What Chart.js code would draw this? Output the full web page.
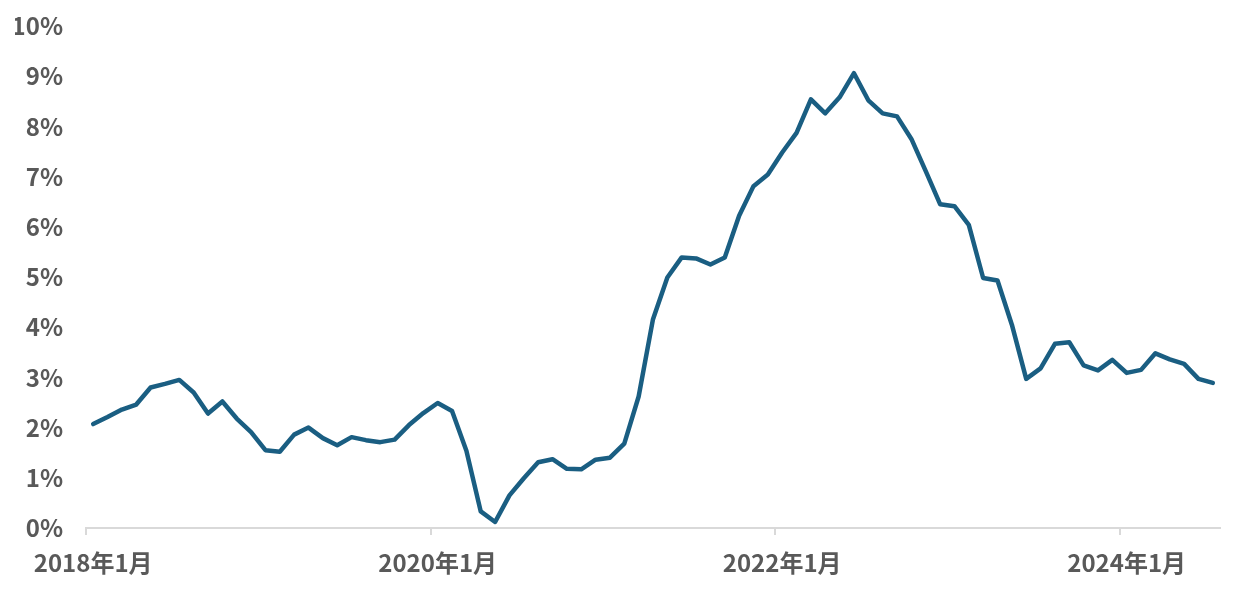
<!DOCTYPE html>
<html>
<head>
<meta charset="utf-8">
<script src="https://cdn.jsdelivr.net/npm/chart.js@4.4.1/dist/chart.umd.min.js"></script>
<style>
  html, body { margin: 0; padding: 0; background: #ffffff; }
  #wrap { position: relative; width: 1243px; height: 599px; }
</style>
</head>
<body>
<div id="wrap"><canvas id="cpiChart"></canvas></div>
<script>
// 月次 前年同月比 (%), 2018年1月 - 2024年7月
const startYear = 2018;
const monthCount = 79;
const months = [];
for (let i = 0; i < monthCount; i++) {
    const y = startYear + Math.floor(i / 12);
    const m = (i % 12) + 1;
    months.push(y + "年" + m + "月");
}

const rate2018 = [2.07, 2.21, 2.36, 2.46, 2.80, 2.87, 2.95, 2.70, 2.28, 2.52, 2.18, 1.91];
const rate2019 = [1.55, 1.52, 1.86, 2.00, 1.79, 1.65, 1.81, 1.75, 1.71, 1.76, 2.05, 2.29];
const rate2020 = [2.49, 2.33, 1.54, 0.33, 0.12, 0.65, 0.99, 1.31, 1.37, 1.18, 1.17, 1.36];
const rate2021 = [1.40, 1.68, 2.62, 4.16, 4.99, 5.39, 5.37, 5.25, 5.39, 6.22, 6.81, 7.04];
const rate2022 = [7.48, 7.87, 8.54, 8.26, 8.58, 9.06, 8.52, 8.26, 8.20, 7.75, 7.11, 6.45];
const rate2023 = [6.41, 6.04, 4.98, 4.93, 4.05, 2.97, 3.18, 3.67, 3.70, 3.24, 3.14, 3.35];
const rate2024 = [3.09, 3.15, 3.48, 3.36, 3.27, 2.97, 2.89];

const rates = [].concat(rate2018, rate2019, rate2020, rate2021, rate2022, rate2023, rate2024);

const yTicks = [0, 1, 2, 3, 4, 5, 6, 7, 8, 9, 10];
const labelEvery = 24;

const textColor = "#595959";
const axisColor = "#d9d9d9";
const lineColor = "#1a5e82";
const fontFamily = "'Noto Sans CJK JP', 'Noto Sans', sans-serif";

const ctx = document.getElementById("cpiChart").getContext("2d");
const cpiChart = new Chart(ctx, {
    type: "line",
    data: {
        labels: months,
        datasets: [
            {
                label: "前年同月比",
                data: rates,
                borderColor: lineColor,
                borderWidth: 4.5,
                borderJoinStyle: "round",
                borderCapStyle: "round",
                pointRadius: 0,
                fill: false,
                tension: 0,
            },
        ],
    },
    options: {
        responsive: true,
        maintainAspectRatio: false,
        animation: false,
        devicePixelRatio: 1,
        layout: {
            autoPadding: false,
            padding: { left: 15, right: 23, top: 26, bottom: 0 },
        },
        scales: {
            x: {
                type: "category",
                offset: true,
                afterFit: (scale) => {
                    scale.height = 71;
                },
                grid: {
                    offset: true,
                    drawOnChartArea: false,
                    drawTicks: true,
                    tickLength: 7,
                    lineWidth: 2,
                    color: (c) => (c.index % labelEvery === 0 ? axisColor : "rgba(255,255,255,0)"),
                },
                border: { display: true, color: axisColor, width: 2 },
                ticks: {
                    autoSkip: false,
                    maxRotation: 0,
                    minRotation: 0,
                    padding: 13,
                    color: textColor,
                    font: { family: fontFamily, size: 24, weight: "bold" },
                    callback: function (value, index) {
                        return index % labelEvery === 0 ? this.getLabelForValue(value) : "";
                    },
                },
            },
            y: {
                min: 0,
                max: 10,
                afterBuildTicks: (axis) => {
                    axis.ticks = yTicks.map((v) => ({ value: v }));
                },
                afterFit: (scale) => {
                    scale.width = 71;
                    scale.paddingTop = 0;
                    scale.paddingBottom = 0;
                },
                grid: { display: false, drawTicks: false },
                border: { display: false },
                ticks: {
                    padding: 23,
                    color: textColor,
                    font: { family: fontFamily, size: 24, weight: "bold" },
                    callback: (v) => v + "%",
                },
            },
        },
        plugins: {
            legend: { display: false },
            tooltip: { enabled: false },
        },
    },
});
</script>
</body>
</html>
